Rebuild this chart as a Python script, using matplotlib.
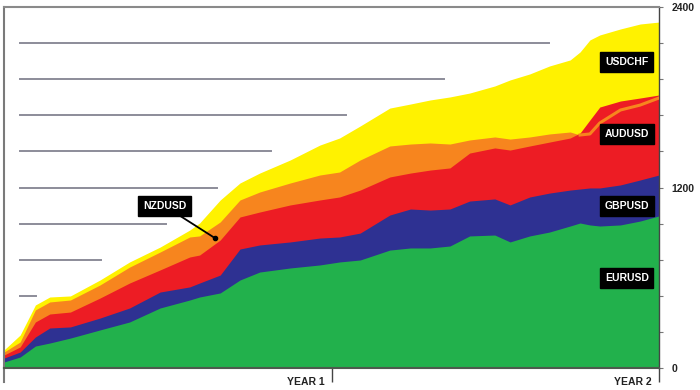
import numpy as np
import matplotlib
matplotlib.use("Agg")
import matplotlib.pyplot as plt

plt.rcParams['font.family'] = ['Liberation Sans', 'DejaVu Sans']

# trading days since start (2 years = 730 days)
days = [0, 18, 35, 51, 74, 107, 140, 174, 207, 218, 241, 263, 285, 319, 352, 374,
        397, 430, 453, 475, 497, 519, 547, 564, 586, 608, 631, 642, 653, 664, 687, 709, 730]

# cumulative equity (top edge of each layer)
eurusd = [40, 73, 146, 166, 199, 253, 306, 399, 452, 472, 499, 585, 638, 665, 685, 705,
          718, 784, 798, 798, 811, 878, 884, 838, 878, 904, 944, 964, 951, 944, 951, 977, 1011]
gbpusd = [66, 106, 206, 266, 273, 332, 399, 505, 539, 565, 618, 791, 818, 838, 864, 871,
          897, 1017, 1057, 1050, 1057, 1110, 1124, 1084, 1137, 1163, 1183, 1190, 1197, 1197, 1217, 1250, 1283]
audusd = [86, 140, 306, 359, 372, 465, 565, 652, 738, 751, 851, 1004, 1037, 1084, 1117, 1137,
          1183, 1270, 1296, 1316, 1330, 1429, 1463, 1449, 1476, 1502, 1529, 1562, 1649, 1735, 1775, 1795, 1815]
nzdusd = [106, 173, 386, 439, 452, 552, 671, 771, 871, 878, 971, 1117, 1170, 1230, 1283, 1303,
          1383, 1476, 1489, 1496, 1489, 1516, 1536, 1522, 1536, 1556, 1569, 1549, 1556, 1629, 1715, 1748, 1795]
usdchf = [120, 219, 419, 472, 479, 585, 705, 804, 917, 964, 1117, 1230, 1296, 1383, 1482, 1529,
          1609, 1728, 1755, 1782, 1802, 1828, 1875, 1915, 1955, 2008, 2048, 2101, 2181, 2214, 2254, 2287, 2300]

# left-hand guide lines: level and where each one stops
guide_levels = [2160, 1920, 1680, 1440, 1200, 960, 720, 480]
guide_ends = [607, 490, 381, 298, 237, 180, 108, 36]

year_ticks = [365, 730]
year_labels = ['YEAR 1', 'YEAR 2']

fig = plt.figure(figsize=(7, 3.9), dpi=100)
ax = fig.add_axes([4 / 700, 22 / 390, 655 / 700, 361 / 390])

for lvl, end in zip(guide_levels, guide_ends):
    ax.plot([18, end], [lvl, lvl], color='#8c8c99', lw=1.4, zorder=1)

layers = [(usdchf, '#fff200'), (nzdusd, '#f7851e'), (audusd, '#ed1c24'),
          (gbpusd, '#2e3192'), (eurusd, '#22b14c')]
for vals, col in layers:
    ax.fill_between(days, 0, vals, color=col, lw=0, zorder=2)
# NZDUSD curve stays visible where AUDUSD overtakes it
ax.plot(days[-6:], nzdusd[-6:], color='#f7851e', lw=2.2, zorder=3)

ax.set_xlim(0, 730)
ax.set_ylim(0, 2400)

# right axis
ax.yaxis.tick_right()
ticks = np.arange(0, 2401, 240)
ax.set_yticks(ticks)
ax.set_yticklabels([str(v) if v in (0, 1200, 2400) else '' for v in ticks],
                   fontsize=7.5, fontweight='bold', color='#222222')
ax.tick_params(axis='y', direction='out', length=3, width=0.8, color='#777777', pad=6)

ax.set_xticks(year_ticks)
ax.set_xticklabels([])
ax.tick_params(axis='x', direction='out', length=10, width=1, color='#444444')
for x, lab in zip(year_ticks, year_labels):
    ax.annotate(lab, xy=(x, 0), xycoords=('data', 'axes fraction'), xytext=(-5, -10),
                textcoords='offset points', ha='right', va='center',
                fontsize=7.5, fontweight='bold', color='#222222', annotation_clip=False)

ax.spines['top'].set_color('#8a8a8a')
ax.spines['top'].set_linewidth(1.5)
ax.spines['left'].set_color('#7a7a7a')
ax.spines['left'].set_linewidth(1.5)
ax.spines['right'].set_color('#444444')
ax.spines['right'].set_linewidth(1)
ax.spines['bottom'].set_color('#4d5a4d')
ax.spines['bottom'].set_linewidth(1.5)
ax.plot([0, 0], [0, -0.04], transform=ax.transAxes, color='#7a7a7a', lw=1.5, clip_on=False)

box = dict(boxstyle='square,pad=0.45', fc='black', ec='black')
for name, yv in [('USDCHF', 2034), ('AUDUSD', 1556), ('GBPUSD', 1077), ('EURUSD', 598)]:
    ax.text(694, yv, name, ha='center', va='center', color='white', fontsize=7.5,
            fontweight='bold', bbox=box, zorder=5)

ax.annotate('NZDUSD', xy=(235, 864), xytext=(179, 1077), ha='center', va='center',
            color='white', fontsize=7.5, fontweight='bold', bbox=box, zorder=5,
            arrowprops=dict(arrowstyle='-', color='black', lw=1.3, shrinkA=0, shrinkB=0))
ax.plot([235], [864], 'o', color='black', ms=3, zorder=6)

fig.savefig('out.png', dpi=100)
